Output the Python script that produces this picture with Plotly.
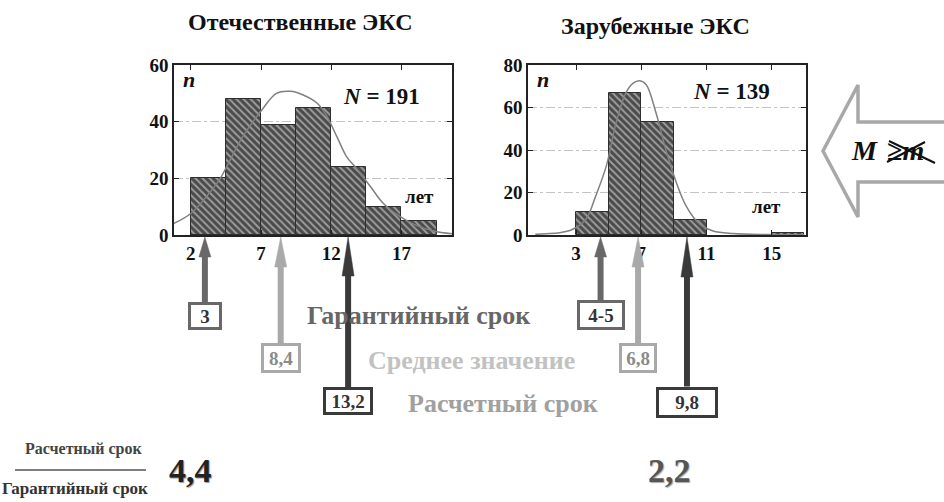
import plotly.graph_objects as go

W, H = 944, 502
FONT = "'Liberation Serif', 'Times New Roman', Times, serif"

# ---------------- data ----------------
left_title = "Отечественные ЭКС"
right_title = "Зарубежные ЭКС"

left_bin_edges = [2, 4.5, 7, 9.5, 12, 14.5, 17]
left_bin_width = 2.5
left_counts = [20, 48, 39, 45, 24, 10, 5]
left_curve_x = [0.8, 2.0, 3.1, 4.1, 4.55, 5.7, 7.05, 8.1, 9.1, 10.0, 11.0, 11.7,
                12.4, 13.1, 13.8, 14.8, 15.7, 16.9, 18.1, 19.3, 20.6]
left_curve_y = [4.1, 7.6, 13.5, 20, 24.1, 34.7, 44.1, 50, 50.7, 49.4, 46.5, 41.8,
                34.7, 27.6, 23.5, 17, 11.2, 6.5, 3.3, 1.4, 0.4]
left_xticks = [2, 7, 12, 17]
left_yticks = [0, 20, 40, 60]
left_N = "191"

right_bin_edges = [3, 5, 7, 9, 15]
right_bin_width = 2
right_counts = [11, 67, 53, 7, 1]
right_curve_x = [0.5, 1.15, 2.0, 2.8, 3.6, 4.2, 4.85, 5.45, 6.05, 6.5, 6.9, 7.3,
                 7.9, 8.5, 9.15, 9.75, 10.6, 11.4, 12.6, 14.7, 17.0]
right_curve_y = [0.3, 0.6, 1.1, 2.7, 7.4, 18.3, 32.4, 52.8, 66.9, 71.5, 72.6, 70.7,
                 57.5, 40.2, 24.6, 13.6, 5.0, 1.9, 0.7, 0.2, 0.1]
right_xticks = [3, 7, 11, 15]
right_yticks = [0, 20, 40, 60, 80]
right_N = "139"

# marker values: (guarantee, mean, calculated)
left_marks = [3, 8.4, 13.2]
left_mark_labels = ["3", "8,4", "13,2"]
right_marks = [4.5, 6.8, 9.8]
right_mark_labels = ["4-5", "6,8", "9,8"]
mark_names = ["Гарантийный срок", "Среднее значение", "Расчетный срок"]
ratio_labels = ["4,4", "2,2"]

# ---------------- helpers ----------------
def X(px):
    return px / W

def Y(py):
    return 1 - py / H

BAR_COLOR = "#4a4a4a"
MARK_COLORS = ["#686868", "#a9a9a9", "#3a3a3a"]
TEXT_COLORS = ["#666666", "#c2c2c2", "#a0a0a0"]

fig = go.Figure()

def add_hist(edges, width, counts, cx, cy, xa, ya):
    centers = [e + width / 2 for e in edges]
    fig.add_trace(go.Bar(
        x=centers, y=counts, width=width, xaxis=xa, yaxis=ya,
        marker=dict(color=BAR_COLOR, line=dict(color="#2e2e2e", width=1),
                    pattern=dict(shape="\\", fgcolor="#f0f0f0", size=5, solidity=0.4)),
        showlegend=False, hoverinfo="skip"))
    fig.add_trace(go.Scatter(
        x=cx, y=cy, xaxis=xa, yaxis=ya, mode="lines",
        line=dict(color="#808080", width=1.5, shape="spline", smoothing=1.0),
        showlegend=False, hoverinfo="skip"))

add_hist(left_bin_edges, left_bin_width, left_counts, left_curve_x, left_curve_y, "x", "y")
add_hist(right_bin_edges, right_bin_width, right_counts, right_curve_x, right_curve_y, "x2", "y2")

tickfont = dict(family=FONT, size=19, color="#111", weight="bold")
axis_common = dict(showline=True, linecolor="#222", linewidth=1.5, mirror="allticks",
                   ticks="inside", ticklen=5, tickcolor="#222", tickfont=tickfont,
                   zeroline=False)

ydom = [Y(235), Y(65)]
fig.update_layout(
    width=W, height=H, margin=dict(l=0, r=0, t=0, b=0, autoexpand=False),
    paper_bgcolor="white", plot_bgcolor="white", bargap=0,
    xaxis=dict(domain=[X(174), X(452)], range=[0.8, 20.6], tickvals=left_xticks,
               showgrid=False, anchor="y", **axis_common),
    yaxis=dict(domain=ydom, range=[0, 60], tickvals=left_yticks, showgrid=True,
               gridcolor="#c4c4c4", griddash="dashdot", gridwidth=1,
               anchor="x", **axis_common),
    xaxis2=dict(domain=[X(528), X(806)], range=[0.05, 17.1], tickvals=right_xticks,
                showgrid=False, anchor="y2", **axis_common),
    yaxis2=dict(domain=ydom, range=[0, 80], tickvals=right_yticks, showgrid=True,
                gridcolor="#c4c4c4", griddash="dashdot", gridwidth=1,
                anchor="x2", **axis_common),
)

ann = []
shapes = []

def text(px, py, s, size, color="#111", xanchor="center", italic=False, shadow=None):
    f = dict(family=FONT, size=size, color=color, weight="bold")
    if italic:
        f["style"] = "italic"
    if shadow:
        f["shadow"] = shadow
    ann.append(dict(xref="paper", yref="paper", x=X(px), y=Y(py), text=s, showarrow=False,
                    font=f, xanchor=xanchor, yanchor="middle"))

# titles
text(300, 22, left_title, 24)
text(655, 26, right_title, 24)
# in-plot labels
text(181, 80, "n", 22, italic=True, xanchor="left")
text(535, 80, "n", 22, italic=True, xanchor="left")
text(381, 96, "<i>N</i> = " + left_N, 23)
text(731, 91, "<i>N</i> = " + right_N, 23)
text(419, 196, "лет", 19)
text(766, 206, "лет", 19)

# marker arrows + boxes
tip_py = 237
head_base = [[257, 267, 276], [257, 267, 277]]
box_center = [[316, 358, 401], [315, 358, 402]]
box_size = [[(28, 22), (34, 24), (44, 22)], [(42, 24), (32, 24), (56, 25)]]
for k, (xr, marks, labels) in enumerate([("x", left_marks, left_mark_labels),
                                          ("x2", right_marks, right_mark_labels)]):
    for i, v in enumerate(marks):
        col = MARK_COLORS[i]
        bw, bh = box_size[k][i]
        top = box_center[k][i] - bh / 2 - 3
        shapes.append(dict(type="line", xref=xr, yref="paper", x0=v, x1=v,
                           y0=Y(top), y1=Y(head_base[k][i]),
                           line=dict(color=col, width=6)))
        shapes.append(dict(type="path", xref=xr, yref="paper", xsizemode="pixel", xanchor=v,
                           path=f"M -6,{Y(head_base[k][i])} L 0,{Y(tip_py)} L 6,{Y(head_base[k][i])} Z",
                           fillcolor=col, line=dict(color=col, width=0.5)))
        ann.append(dict(xref=xr, yref="paper", x=v, y=Y(box_center[k][i]),
                        text="<b>" + labels[i] + "</b>",
                        showarrow=False, width=bw, height=bh, bgcolor="white",
                        bordercolor=col, borderwidth=3, borderpad=0,
                        font=dict(family=FONT, size=19, color="#333" if i != 1 else "#8a8a8a"),
                        xanchor="center", yanchor="middle"))

# legend-like texts
text(418, 315, mark_names[0], 26, color=TEXT_COLORS[0])
text(471, 360, mark_names[1], 26, color=TEXT_COLORS[1])
text(503, 403, mark_names[2], 26, color=TEXT_COLORS[2])

# fraction at bottom
text(83, 449, mark_names[2], 16, color="#444")
text(75, 488, "Гарантийный срок", 17, color="#333")
shapes.append(dict(type="line", xref="paper", yref="paper", x0=X(15), x1=X(146),
                   y0=Y(470), y1=Y(470), line=dict(color="#555", width=1.5)))
text(190, 470, ratio_labels[0], 34, color="#222", shadow="1px 1px 1px #999")
text(669, 470, ratio_labels[1], 34, color="#555", shadow="1px 1px 1px #aaa")

# big arrow on the right
pts = [(946, 122), (858, 122), (858, 85), (823, 151), (858, 217), (858, 182), (946, 182)]
path = "M " + " L ".join(f"{X(a)},{Y(b)}" for a, b in pts)
shapes.append(dict(type="path", xref="paper", yref="paper", path=path,
                   fillcolor="white", line=dict(color="#a8a8a8", width=3.5)))
text(849, 151, "<i>M</i>", 28, xanchor="left")
text(885, 151, "≥<i>m</i>", 28, xanchor="left")
shapes.append(dict(type="line", xref="paper", yref="paper", x0=X(887), x1=X(925),
                   y0=Y(162), y1=Y(142), line=dict(color="#111", width=2)))
shapes.append(dict(type="line", xref="paper", yref="paper", x0=X(889), x1=X(935),
                   y0=Y(141), y1=Y(163), line=dict(color="#111", width=2)))

fig.update_layout(annotations=ann, shapes=shapes)
fig.write_html("out.html", config={"displayModeBar": False},
               post_script="document.body.style.margin='0';")
